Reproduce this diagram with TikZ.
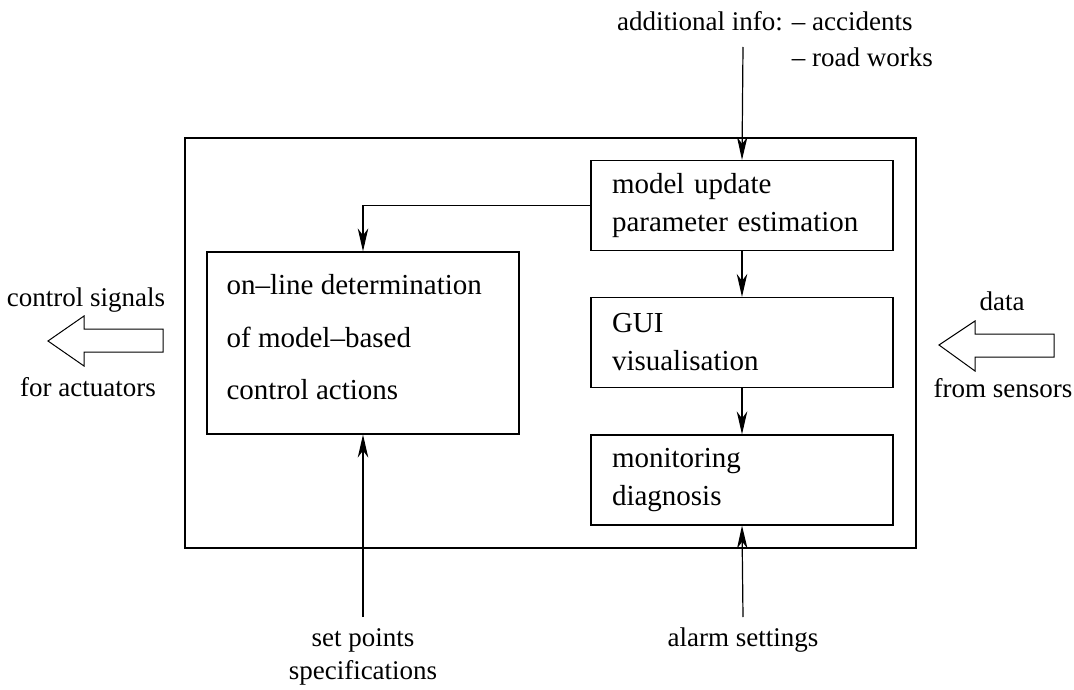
\documentclass[tikz,border=0pt]{standalone}
\usepackage{fontspec}
\setmainfont{Liberation Serif}
\usetikzlibrary{arrows.meta,positioning}

\tikzset{
  blk/.style={draw, line width=1.2pt, minimum width=302pt, minimum height=90pt,
    text width=260pt, inner xsep=21pt, align=left, font=\fontsize{29}{38}\selectfont},
  lbl/.style={inner sep=0pt},
  flow/.style={line width=1.2pt, -{Stealth[length=23pt,width=10.5pt,inset=7pt]}},
  bigarrow/.style={line width=1pt, line join=miter},
}

\begin{document}
\begin{tikzpicture}[x=1pt, y=-1pt, font=\fontsize{27}{36}\selectfont]
    \useasboundingbox (0,0) rectangle (1074,690);

    % Outer frame
    \draw[line width=1.2pt] (185,138) rectangle (916,548);

    % Right column
    \node[blk] (upd) at (742,205.5) {model update\\parameter estimation};
    \node[blk] (gui) at (742,342.5) {GUI\\visualisation};
    \node[blk] (mon) at (742,480) {monitoring\\diagnosis};

    % Control block
    \node[draw, line width=1.2pt, minimum width=312pt, minimum height=182pt] (ctrl) at (363,343) {};
    \node[lbl, anchor=north west, align=left, font=\fontsize{29}{52.5}\selectfont] (ctrltxt)
        at ([shift={(20,23)}]ctrl.north west)
        {on--line determination\\of model--based\\control actions};

    % Inputs and outputs
    \coordinate (info) at (743,47);
    \coordinate (setp) at (363,617);
    \coordinate (alarm) at (743,617);

    \node[lbl, anchor=west, align=left] (infolbl) at (617,39)
        {additional info: -- accidents\\\phantom{additional info: }-- road works};
    \node[lbl, anchor=north, align=center, font=\fontsize{27}{33}\selectfont] (setplbl) at (363,628)
        {set points\\specifications};
    \node[lbl, anchor=north] (alarmlbl) at (743,628) {alarm settings};

    % Connectors
    \draw[flow] (info) -- (upd.north);
    \draw[flow] (upd.west) -| (ctrl.north);
    \draw[flow] (upd) -- (gui);
    \draw[flow] (gui) -- (mon);
    \draw[flow] (alarm) -- (mon.south);
    \draw[flow] (setp) -- (ctrl.south);

    % Hollow arrows
    \draw[bigarrow] (163,329) -- (84,329) -- (84,316) -- (48,341) -- (84,366) -- (84,352) -- (163,352) -- cycle;
    \node[lbl] (ctrlsig) at (86,300) {control signals};
    \node[lbl] (actu) at (88,387) {for actuators};

    \draw[bigarrow] (1054,334) -- (975,334) -- (975,321) -- (939,345) -- (975,371) -- (975,357) -- (1054,357) -- cycle;
    \node[lbl] (datalbl) at (1002,301) {data};
    \node[lbl] (sens) at (1003,388) {from sensors};
\end{tikzpicture}
\end{document}
